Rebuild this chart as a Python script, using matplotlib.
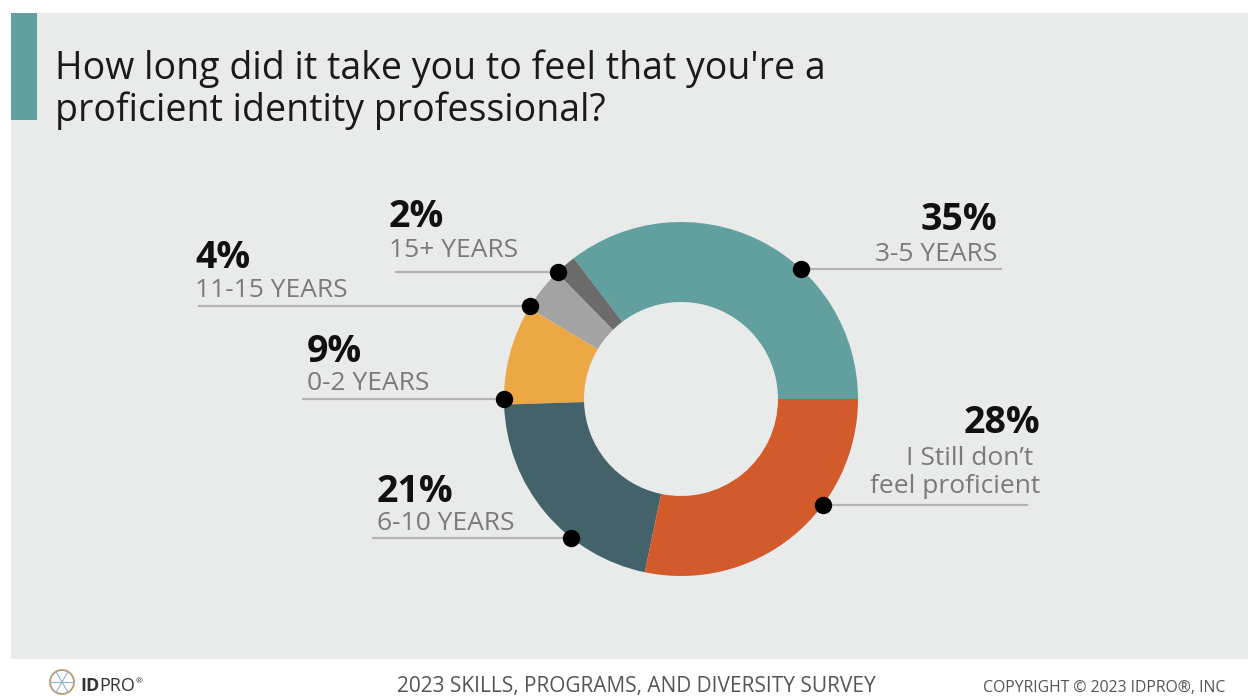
import matplotlib
matplotlib.use("Agg")
import matplotlib.pyplot as plt
from matplotlib.patches import Rectangle, Circle
import numpy as np

# ---- data ----
categories = ["3-5 YEARS", "15+ YEARS", "11-15 YEARS", "0-2 YEARS", "6-10 YEARS",
              ["I Still don\u2019t ", "feel proficient"]]
values = [35, 2, 4, 9, 21, 28]
pct_labels = ["35%", "2%", "4%", "9%", "21%", "28%"]
colors = ["#62a09f", "#6b6b6b", "#a3a3a3", "#eca845", "#43626a", "#d35b2b"]

title_lines = ["How long did it take you to feel that you're a",
               "proficient identity professional?"]
footer_center = "2023 SKILLS, PROGRAMS, AND DIVERSITY SURVEY"
footer_right = "COPYRIGHT \u00a9 2023 IDPRO\u00ae, INC"

# ---- layout (pixels, y measured from top) ----
W, H = 1248, 696
cx, cy, R, RING = 681, 399, 177, 80
# side, text x, pct baseline, sub baselines, leader y, leader outer x
label_layout = [
    ("right", 997, 230, [261], 269, 1002),
    ("left", 389, 227, [257], 272, 395),
    ("left", 195, 268, [297], 306, 198),
    ("left", 307, 362, [390], 399, 302),
    ("left", 377, 502, [530], 538, 372),
    ("right", 1040, 433, [465, 493], 505, 1028),
]

FONT = ["Open Sans", "DejaVu Sans"]
plt.rcParams["font.family"] = FONT

fig = plt.figure(figsize=(W / 100, H / 100), dpi=100)
fig.patch.set_facecolor("white")
ax = fig.add_axes([0, 0, 1, 1])


def Y(y):
    return H - y


# background panel and accent bar
ax.add_patch(Rectangle((11, Y(659)), W - 11, 659 - 13, color="#e9eaea", lw=0, zorder=0))
ax.add_patch(Rectangle((11, Y(120)), 26, 107, color="#62a09f", lw=0, zorder=1))

# donut
ax.pie(values, colors=colors, startangle=0, counterclock=True, radius=R,
       center=(cx, Y(cy)), wedgeprops=dict(width=RING, linewidth=0), frame=True)

ax.set_xlim(0, W)
ax.set_ylim(0, H)
ax.set_aspect("equal")
ax.axis("off")

# labels, leaders and dots
for cat, pct, (side, tx, pb, sbs, ly, lx) in zip(categories, pct_labels, label_layout):
    ha = "left" if side == "left" else "right"
    ax.text(tx, Y(pb), pct, ha=ha, va="baseline", fontsize=27,
            fontweight="bold", color="#111111", zorder=5)
    subs = cat if isinstance(cat, list) else [cat]
    for s, sb in zip(subs, sbs):
        ax.text(tx, Y(sb), s, ha=ha, va="baseline", fontsize=19,
                color="#7a7a7a", zorder=5)
    dx = np.sqrt(max(R ** 2 - (ly - cy) ** 2, 0))
    dot_x = cx - dx if side == "left" else cx + dx
    ax.plot([lx, dot_x], [Y(ly), Y(ly)], color="#b3b3b3", lw=1.6,
            solid_capstyle="butt", zorder=3)
    ax.plot([dot_x], [Y(ly)], "o", color="black", markersize=11.5, zorder=6)

# title
ax.text(55, Y(79), title_lines[0], ha="left", va="baseline", fontsize=27,
        color="#1a1a1a", zorder=5)
ax.text(55, Y(121), title_lines[1], ha="left", va="baseline", fontsize=27,
        color="#1a1a1a", zorder=5)

# footer
ax.text(636, Y(692), footer_center, ha="center", va="baseline", fontsize=15,
        color="#555555", zorder=5)
ax.text(1225, Y(692), footer_right, ha="right", va="baseline", fontsize=11.3,
        color="#555555", zorder=5)

# logo
lc = (62, Y(682))
ax.add_patch(Circle(lc, 12, fill=False, ec="#b89a6e", lw=1.3, zorder=5))
for a in np.linspace(0, 2 * np.pi, 7)[:-1]:
    ax.plot([lc[0], lc[0] + 12 * np.cos(a)], [lc[1], lc[1] + 12 * np.sin(a)],
            color="#8fb3c9", lw=0.8, zorder=5)
t_id = ax.text(80, Y(691), "ID", ha="left", va="baseline", fontsize=13,
               fontweight="bold", color="#333333", zorder=5)
t_pro = ax.annotate("PRO", xy=(1, 0), xycoords=t_id, ha="left", va="bottom",
                    fontsize=13, color="#333333", zorder=5)
ax.annotate("\u00ae", xy=(1, 0.55), xycoords=t_pro, ha="left", va="bottom",
            fontsize=6, color="#333333", zorder=5)

fig.savefig("out.png", dpi=100, facecolor="white")
